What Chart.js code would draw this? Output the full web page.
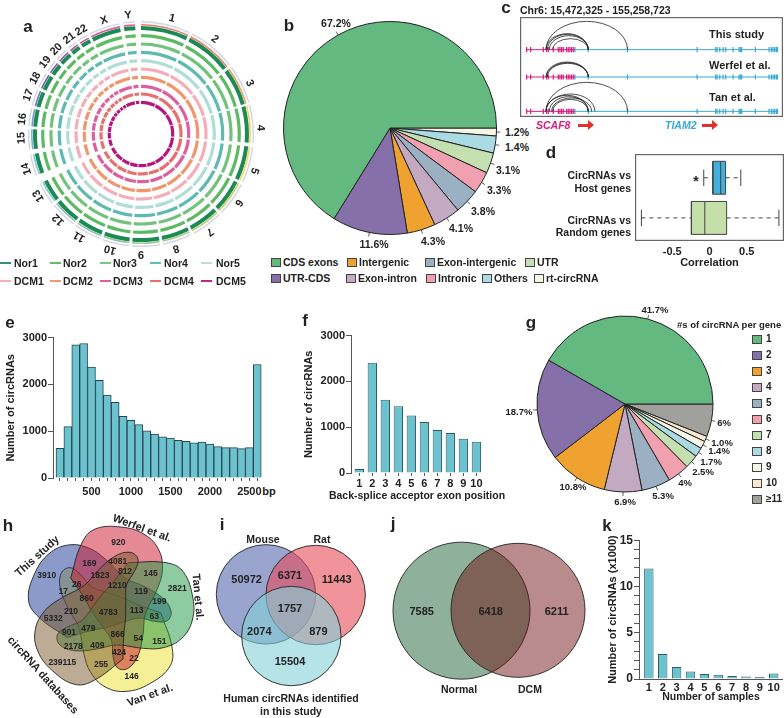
<!DOCTYPE html>
<html>
<head>
<meta charset="utf-8">
<script src="https://cdn.jsdelivr.net/npm/chart.js@4"></script>
<style>
  html, body { margin: 0; padding: 0; background: #fff; }
  #page { position: relative; width: 784px; height: 718px; overflow: hidden; font-family: "Liberation Sans", Arial, sans-serif; color: #222; }
  #page canvas { position: absolute; }
  .t { position: absolute; white-space: nowrap; font-weight: bold; line-height: 1; }
  .s { position: absolute; box-sizing: border-box; }
</style>
</head>
<body>
<div id="page"></div>
<script>
// a: circos
const chromosomes = ["1","2","3","4","5","6","7","8","9","10","11","12","13","14","15","16","17","18","19","20","21","22","X","Y"];
const chromosomeMb = [249,243,198,191,181,171,159,146,141,135,135,133,115,107,102,90,81,78,59,63,48,51,155,59];
const chromosomeGaps = [15,15,12,20,15,15,15,15,15,15,15,15,45,25,15,15,15,15,15,15,15,15,20,30];
const trackNames = ["Nor1","Nor2","Nor3","Nor4","Nor5","DCM1","DCM2","DCM3","DCM4","DCM5"];

// b: circRNA types
const bTypes = ["rt-circRNA","Others","UTR","Intronic","Exon-intergenic","Exon-intron","Intergenic","UTR-CDS","CDS exons"];
const bShares = [1.2,2.6,3.1,3.3,3.8,4.1,4.3,11.4,66.2];
const bPrinted = ["1.2%","1.4%","3.1%","3.3%","3.8%","4.1%","4.3%","11.6%","67.2%"];

// c: tracks
const cTracks = ["This study","Werfel et al.","Tan et al."];
const cExonsScaf8 = [80,92,130,140,145,160,175,180,185,190,200,205,210,215,220];
const cExonsTiam2 = [225,265,383,592,648,652,660,670,678,700,718,722,726,767,808,815,820,825,830,833];
const cArcsThisStudy = [[138,383,85],[138,265,48],[142,265,46],[148,265,42],[158,265,33]];
const cArcsWerfel = [[138,265,45],[140,265,43],[142,265,41]];
const cArcsTan = [[138,383,87],[138,285,52],[138,265,48],[148,265,44],[155,275,40],[158,265,36]];

// d: correlation boxes [whisker low, q1, median, q3, whisker high]
const dHost = [-0.077,0.045,0.15,0.216,0.42];
const dRandom = [-0.914,-0.243,-0.063,0.23,0.932];

// e: length histogram
const eBins = [100,200,300,400,500,600,700,800,900,1000,1100,1200,1300,1400,1500,1600,1700,1800,1900,2000,2100,2200,2300,2400,2500,2600];
const eCounts = [635,1098,2845,2873,2368,2088,1772,1617,1316,1232,1140,1007,937,880,853,804,783,754,769,726,670,649,649,628,649,2425];

// f: acceptor exon position
const fPositions = [1,2,3,4,5,6,7,8,9,10];
const fCounts = [85,2409,1598,1455,1254,1112,940,875,746,680];

// g: circRNA per gene
const gGroups = ["≥11","10","9","8","7","6","5","4","3","2","1"];
const gShares = [6,1.0,1.4,1.7,2.5,4,5.3,6.9,10.8,18.7,41.7];
const gPrinted = ["6%","1.0%","1.4%","1.7%","2.5%","4%","5.3%","6.9%","10.8%","18.7%","41.7%"];

// h, i, j: venn counts
const hCounts = [920,169,4081,1823,812,145,2821,3910,26,17,1210,119,199,860,210,4783,113,63,5332,479,901,866,54,151,2178,409,424,22,239115,255,146];
const iCounts = [50972,6371,11443,1757,2074,879,15504];
const jCounts = [7585,6418,6211];

// k: samples
const kSamples = [1,2,3,4,5,6,7,8,9,10];
const kCounts = [11.95,2.7,1.3,0.8,0.55,0.45,0.33,0.28,0.22,0.6];

// ---- colours ----
const trackColors = ["#1c8a55","#5cba62","#72c27e","#5cbab0","#aeded5","#f3aeb8","#f0966f","#de5f9e","#e76f70","#b5157d"];
const legendColors = ["#2f8f78","#66bb6a","#7dc77f","#63bdb3","#b6e0d8","#f3aeb8","#f0966f","#de5f9e","#e76f70","#c2258a"];
const ideogramColors = ["#e77f70","#e8846a","#eda05a","#f3d35c","#f3d860","#c9cf5a","#b7d070","#aacd88","#a0cb9c","#98c4a2","#92c2aa","#8bc2b6","#86c4c8","#7fc6dc","#7eaed8","#7c98ce","#6f79b6","#6f5fac","#8a5ca8","#9e5aa6","#b6569f","#c8559b","#da5a9a","#e35f90"];
const bColors = ["#f6f5e8","#abdbe2","#c4dfb0","#f0a0ae","#9bb0c2","#c3a9c2","#efa22f","#8670a9","#64b981"];
const gColors = ["#a0a09c","#fae8d2","#f6f5e8","#abdbe2","#c4dfb0","#f0a0ae","#9bb0c2","#c3a9c2","#efa22f","#8670a9","#64b981"];
const barFill = "#6cc3cf";
const FONT = "'Liberation Sans', Arial, sans-serif";
const page = document.getElementById("page");
Chart.defaults.font.family = FONT;
Chart.defaults.color = "#222";
Chart.defaults.animation = false;
Chart.defaults.plugins.legend.display = false;
Chart.defaults.plugins.tooltip.enabled = false;
Chart.defaults.layout.autoPadding = false;

function makeChart(left, top, width, height, config) {
  const c = document.createElement("canvas");
  c.width = width; c.height = height;
  c.style.left = left + "px"; c.style.top = top + "px";
  c.style.width = width + "px"; c.style.height = height + "px";
  page.appendChild(c);
  config.options = Object.assign({ responsive: false }, config.options);
  return new Chart(c, config);
}

function text(str, x, y, size, opts) {
  opts = opts || {};
  const d = document.createElement("div");
  d.className = "t";
  d.textContent = str;
  d.style.left = x + "px"; d.style.top = y + "px";
  d.style.fontSize = size + "px";
  if (opts.color) d.style.color = opts.color;
  if (opts.italic) d.style.fontStyle = "italic";
  const shift = opts.align === "left" ? "0" : opts.align === "right" ? "-100%" : "-50%";
  d.style.transform = "translate(" + shift + ",-50%) rotate(" + (opts.rot || 0) + "deg)";
  page.appendChild(d);
}

function swatch(x, y, w, h, color, border) {
  const d = document.createElement("div");
  d.className = "s";
  d.style.cssText = "left:" + x + "px;top:" + y + "px;width:" + w + "px;height:" + h + "px;background:" + color + ";" + (border ? "border:1px solid " + border + ";" : "");
  page.appendChild(d);
}

function redArrow(x, y) {
  swatch(x, y - 1.5, 11, 3, "#e2302a");
  const d = document.createElement("div");
  d.className = "s";
  d.style.cssText = "left:" + (x + 10) + "px;top:" + (y - 5) + "px;width:0;height:0;border-top:5px solid transparent;border-bottom:5px solid transparent;border-left:6px solid #e2302a;";
  page.appendChild(d);
}

// short leader tick out of each pie slice
const leaderPlugin = {
  id: "leaders",
  afterDatasetsDraw(chart) {
    const ctx = chart.ctx;
    ctx.save();
    ctx.strokeStyle = "#333"; ctx.lineWidth = 0.8;
    chart.getDatasetMeta(0).data.forEach((arc) => {
      const mid = (arc.startAngle + arc.endAngle) / 2;
      ctx.beginPath();
      ctx.moveTo(arc.x + Math.cos(mid) * arc.outerRadius, arc.y + Math.sin(mid) * arc.outerRadius);
      ctx.lineTo(arc.x + Math.cos(mid) * (arc.outerRadius + 4), arc.y + Math.sin(mid) * (arc.outerRadius + 4));
      ctx.stroke();
    });
    ctx.restore();
  },
};

const framePlugin = {
  id: "frame",
  afterDraw(chart) {
    const a = chart.chartArea, ctx = chart.ctx;
    ctx.save();
    ctx.strokeStyle = "#666"; ctx.lineWidth = 1.2;
    ctx.strokeRect(a.left + 0.6, a.top + 0.6, a.right - a.left - 1.2, a.bottom - a.top - 1.2);
    ctx.restore();
  },
};

// ---- a ----
(function () {
  const sectors = [];
  chromosomeMb.forEach((mb, i) => { sectors.push(mb, chromosomeGaps[i]); });
  const everyOther = (color) => sectors.map((v, i) => (i % 2 ? "rgba(0,0,0,0)" : color));
  const trackCentres = [106,98.3,90,81.7,73.3,65,56.7,47.7,40,31.7];
  const datasets = [];
  const ring = (color, weight) => datasets.push({ data: sectors, backgroundColor: color, borderWidth: 0, weight: weight });
  ring(everyOther("rgba(90,100,170,.28)"), 1.4);
  ring("rgba(0,0,0,0)", 1.6);
  ring(sectors.map((v, i) => (i % 2 ? "rgba(0,0,0,0)" : ideogramColors[i / 2])), 1.6);
  let edge = 108.4;
  trackCentres.forEach((c, i) => {
    const half = i === 0 ? 2 : 1.6;
    ring("rgba(0,0,0,0)", edge - (c + half));
    ring(everyOther(trackColors[i]), 2 * half);
    edge = c - half;
  });
  makeChart(28, 21, 226, 226, {
    type: "doughnut",
    data: { labels: sectors.map(String), datasets: datasets },
    options: { cutout: edge, radius: 113, rotation: 0, layout: { padding: 0 } },
  });
  const labelAngles = [15,38,65,87,108,125,145,163,180,195,211,224,239,253,268,277,289,298,307,315,323,330,342,354];
  chromosomes.forEach((name, i) => {
    const rad = labelAngles[i] * Math.PI / 180;
    text(name, 141 + 120 * Math.sin(rad), 134 - 120 * Math.cos(rad), 11, { rot: labelAngles[i] });
  });
  const lineX = [0,50,100,150,201];
  const textX = [14,63,113,164,216];
  trackNames.forEach((name, i) => {
    const col = i % 5, y = i < 5 ? 263 : 281;
    swatch(lineX[col], y - 0.7, 11, 1.5, legendColors[i]);
    text(name, textX[col], y, 10.5, { align: "left" });
  });
})();
text("a", 28, 26, 17);

// ---- b ----
makeChart(276, 14, 228, 228, {
  type: "pie",
  data: { labels: bTypes, datasets: [{ data: bShares, backgroundColor: bColors, borderColor: "#222", borderWidth: 1 }] },
  options: { radius: 106.5, rotation: 90, layout: { padding: 0 } },
  plugins: [leaderPlugin],
});
const bLabelXY = [[517,132],[517,147],[508,170],[499,190],[483,211],[461,228],[433,241],[374,244],[336,23]];
bPrinted.forEach((s, i) => text(s, bLabelXY[i][0], bLabelXY[i][1], 10.5));
text("b", 289, 25, 17);
const bLegend = [["CDS exons",271,262,8],["Intergenic",347,262,6],["Exon-intergenic",425,262,4],["UTR",525,262,2],
  ["UTR-CDS",271,278,7],["Exon-intron",346,278,5],["Intronic",426,278,3],["Others",482,278,1],["rt-circRNA",534,278,0]];
bLegend.forEach((e) => {
  swatch(e[1], e[2] - 4.5, 10, 9, bColors[e[3]], "#444");
  text(e[0], e[1] + 12, e[2], 10.5, { align: "left" });
});

// ---- c ----
(function () {
  const baselines = [148,230,333];
  const pink = "#d81b7f", blue = "#37a9d4";
  const datasets = [];
  baselines.forEach((b) => {
    datasets.push({ data: [{ x: 78, y: b }, { x: 225, y: b }], showLine: true, borderColor: pink, borderWidth: 1, pointRadius: 0 });
    datasets.push({ data: [{ x: 225, y: b }, { x: 836, y: b }], showLine: true, borderColor: blue, borderWidth: 1, pointRadius: 0 });
    datasets.push({ data: cExonsScaf8.map((x) => ({ x: x, y: b })), pointStyle: "line", pointRotation: 90, pointRadius: 2.6, pointBorderColor: pink, pointBorderWidth: 1.2 });
    datasets.push({ data: cExonsTiam2.map((x) => ({ x: x, y: b })), pointStyle: "line", pointRotation: 90, pointRadius: 2.6, pointBorderColor: blue, pointBorderWidth: 1.2 });
  });
  const allArcs = [cArcsThisStudy, cArcsWerfel, cArcsTan];
  const arcPlugin = {
    id: "arcs",
    afterDatasetsDraw(chart) {
      const ctx = chart.ctx, xs = chart.scales.x, ys = chart.scales.y;
      ctx.save();
      ctx.strokeStyle = "#222"; ctx.lineWidth = 0.8;
      allArcs.forEach((arcs, t) => arcs.forEach((a) => {
        const x0 = xs.getPixelForValue(a[0]), x1 = xs.getPixelForValue(a[1]);
        const base = ys.getPixelForValue(baselines[t]);
        const ry = base - ys.getPixelForValue(baselines[t] - a[2]);
        ctx.beginPath();
        ctx.ellipse((x0 + x1) / 2, base, (x1 - x0) / 2, ry, 0, Math.PI, 2 * Math.PI);
        ctx.stroke();
      }));
      ctx.restore();
    },
  };
  makeChart(520, 17, 263, 100, {
    type: "scatter",
    data: { datasets: datasets },
    options: {
      layout: { padding: 0 },
      scales: {
        x: { display: false, min: 60, max: 850 },
        y: { display: false, min: 50, max: 350, reverse: true },
      },
    },
    plugins: [arcPlugin, framePlugin],
  });
  const y = [34,65,97];
  cTracks.forEach((s, i) => text(s, 709, y[i], 11, { align: "left" }));
})();
text("c", 506, 7, 17);
text("Chr6: 15,472,325 - 155,258,723", 520, 10, 10.5, { align: "left" });
text("SCAF8", 536, 125, 10.5, { align: "left", italic: true, color: "#d81b7f" });
text("TIAM2", 665, 125, 10.5, { align: "left", italic: true, color: "#37a9d4" });
redArrow(578, 125);
redArrow(702, 125);

// ---- d ----
(function () {
  const half = 0.41;
  // the library paints the first dataset on top, so median comes first and box after it
  const boxDatasets = (v, row, fill) => {
    const dash = { showLine: true, pointRadius: 0, borderColor: "#444", borderWidth: 1, borderDash: [4, 4] };
    const solid = { showLine: true, pointRadius: 0, borderColor: "#444", borderWidth: 1 };
    return [
      Object.assign({ data: [{ x: v[2], y: row - half }, { x: v[2], y: row + half }] }, solid),
      Object.assign({ data: [{ x: v[1], y: row - half }, { x: v[3], y: row - half }, { x: v[3], y: row + half }, { x: v[1], y: row + half }, { x: v[1], y: row - half }], fill: "shape", backgroundColor: fill }, solid),
      Object.assign({ data: [{ x: v[0], y: row }, { x: v[1], y: row }] }, dash),
      Object.assign({ data: [{ x: v[3], y: row }, { x: v[4], y: row }] }, dash),
      Object.assign({ data: [{ x: v[0], y: row - half / 2 }, { x: v[0], y: row + half / 2 }] }, solid),
      Object.assign({ data: [{ x: v[4], y: row - half / 2 }, { x: v[4], y: row + half / 2 }] }, solid),
    ];
  };
  makeChart(635, 154, 149, 116, {
    type: "scatter",
    data: { datasets: boxDatasets(dRandom, 0.575, "#c4dfa8").concat(boxDatasets(dHost, 1.575, "#43b0dc")) },
    options: {
      layout: { padding: 0 },
      scales: {
        x: {
          min: -1, max: 1,
          afterFit(s) { s.height = 29; },
          afterBuildTicks(s) { s.ticks = [{ value: -0.5 }, { value: 0 }, { value: 0.5 }]; },
          grid: { display: false, drawTicks: false }, border: { display: false },
          ticks: { font: { size: 11, weight: "bold" }, padding: 4, maxRotation: 0, callback: (v) => v },
          title: { display: true, text: "Correlation", font: { size: 11, weight: "bold" }, padding: 0 },
        },
        y: { display: false, min: 0, max: 2.167 },
      },
    },
    plugins: [framePlugin],
  });
})();
text("d", 551, 152, 17);
text("CircRNAs vs", 631, 175, 10.5, { align: "right" });
text("Host genes", 631, 188, 10.5, { align: "right" });
text("CircRNAs vs", 631, 220, 10.5, { align: "right" });
text("Random genes", 631, 232, 10.5, { align: "right" });
text("*", 696, 181, 14);

// ---- shared bar options ----
function barScales(xMin, xMax, ticks, tickFn, yMax, yStep, yW, xH, yTitle, xTitle, yFont) {
  return {
    x: {
      type: "linear", min: xMin, max: xMax, offset: false,
      afterFit(s) { s.height = xH; },
      afterBuildTicks(s) { s.ticks = ticks.map((v) => ({ value: v })); },
      grid: { drawOnChartArea: false, offset: false, color: "#555", tickLength: 3 },
      border: { display: false },
      ticks: { autoSkip: false, maxRotation: 0, padding: 1, font: { size: 11, weight: "bold" }, callback: tickFn },
      title: { display: !!xTitle, text: xTitle, font: { size: 10.5, weight: "bold" }, padding: 0 },
    },
    y: {
      min: 0, max: yMax,
      afterFit(s) { s.width = yW; },
      grid: { drawOnChartArea: false, color: "#555", tickLength: 5 },
      border: { color: "#555" },
      ticks: { stepSize: yStep, padding: 1, font: { size: yFont || 11, weight: "bold" }, callback: (v) => v },
      title: { display: true, text: yTitle, font: { size: 11, weight: "bold" }, padding: { top: 0, bottom: 0 } },
    },
  };
}

// ---- e ----
(function () {
  const scales = barScales(12, 2660, eBins, (v) => (v % 500 === 0 ? v : ""), 3000, 1000, 49, 22, "Number of circRNAs");
  scales.x.ticks.padding = 4;
  makeChart(4, 330, 258, 170, {
    type: "bar",
    data: { datasets: [{ data: eBins.map((b, i) => ({ x: b, y: eCounts[i] })), backgroundColor: barFill, borderColor: "#24474e", borderWidth: 1, barPercentage: 1, categoryPercentage: 1 }] },
    options: { layout: { padding: { top: 6, right: 0 } }, scales: scales },
  });
})();
text("e", 10, 322, 17);
text("bp", 269, 491, 11);

// ---- f ----
makeChart(302, 328, 190, 172, {
  type: "bar",
  data: { datasets: [{ data: fPositions.map((p, i) => ({ x: p, y: fCounts[i] })), backgroundColor: barFill, borderColor: "#2f5b63", borderWidth: 1, barPercentage: 0.72, categoryPercentage: 1 }] },
  options: {
    layout: { padding: { top: 6, right: 0 } },
    scales: barScales(0.36, 11.2, fPositions, (v) => v, 3000, 1000, 49, 27, "Number of circRNAs"),
  },
});
text("f", 305, 320, 17);
text("Back-splice acceptor exon position", 417, 495, 10.5);

// ---- g ----
makeChart(531, 310, 188, 188, {
  type: "pie",
  data: { labels: gGroups, datasets: [{ data: gShares, backgroundColor: gColors, borderColor: "#222", borderWidth: 1 }] },
  options: { radius: 88, rotation: 90, layout: { padding: 0 } },
  plugins: [leaderPlugin],
});
const gLabelXY = [[724,423],[722,443],[719,451],[711,462],[703,472],[685,483],[663,496],[625,502],[573,487],[519,412],[655,310]];
gPrinted.forEach((s, i) => text(s, gLabelXY[i][0], gLabelXY[i][1], 9.5));
text("g", 531, 322, 17);
text("#s of circRNA per gene", 677, 325, 9.5, { align: "left" });
gGroups.slice().reverse().forEach((s, i) => {
  const y = 339 + i * 16;
  swatch(752, y - 4.5, 10, 9, gColors[gColors.length - 1 - i], "#444");
  text(s, 766, y, 10, { align: "left" });
});

// ---- h ----
(function () {
  // one petal outline, turned five times round the middle of the diagram
  const petal = [[385,248],[490,247],[545,270],[577,345],[577,420],[545,475],[490,503],[430,505],[350,495],[290,507],[225,512],[180,495],[172,465],[200,442],[245,422],[275,385],[305,345],[345,300],[385,248]];
  // listed top layer first
  const turns = [
    [144, "rgba(121,87,43,.5)"],
    [0, "rgba(31,151,65,.5)"],
    [-72, "rgba(203,21,43,.5)"],
    [-144, "rgba(25,53,147,.5)"],
    [72, "rgba(235,225,43,.5)"],
  ];
  const cx = 330, cy = 390;
  const datasets = turns.map((t) => {
    const a = t[0] * Math.PI / 180;
    return {
      data: petal.map((p) => ({
        x: cx + (p[0] - cx) * Math.cos(a) - (p[1] - cy) * Math.sin(a),
        y: cy + (p[0] - cx) * Math.sin(a) + (p[1] - cy) * Math.cos(a),
      })),
      showLine: true, tension: 0.4, fill: "shape", backgroundColor: t[1],
      borderColor: "#222", borderWidth: 0.9, pointRadius: 0,
    };
  });
  makeChart(0, 480, 220, 238, {
    type: "scatter",
    data: { datasets: datasets },
    options: { layout: { padding: 0 }, scales: { x: { display: false, min: 0, max: 660 }, y: { display: false, min: 0, max: 714, reverse: true } } },
  });
  const xy = [[355,185],[268,248],[353,242],[300,284],[375,273],[452,280],[532,323],[140,285],[230,312],[190,332],[352,314],[423,333],[478,363],[260,355],[213,393],[325,395],[410,390],[463,409],[160,413],[265,443],[207,457],[353,463],[415,473],[478,483],[220,498],[292,495],[357,515],[402,535],[187,547],[303,553],[395,589]];
  hCounts.forEach((v, i) => text(String(v), xy[i][0] / 3, 480 + xy[i][1] / 3, 8.5));
})();
text("h", 8, 525, 17);
text("This study", 37, 556, 11, { rot: -42 });
text("Werfel et al.", 142, 528, 11, { rot: 20 });
text("Tan et al.", 198, 597, 11, { rot: 85 });
text("Van et al.", 150, 695, 11, { rot: -20 });
text("circRNA databases", 43, 675, 11, { rot: 48 });

// ---- i ----
makeChart(210, 480, 200, 238, {
  type: "bubble",
  data: { datasets: [
    { data: [{ x: 244, y: 468, r: 49.7 }], backgroundColor: "rgba(132,208,215,.6)", borderColor: "#222", borderWidth: 0.9 },
    { data: [{ x: 317, y: 345, r: 49.7 }], backgroundColor: "rgba(230,75,88,.6)", borderColor: "#222", borderWidth: 0.9 },
    { data: [{ x: 168, y: 343, r: 49.7 }], backgroundColor: "rgb(154,165,207)", borderColor: "#222", borderWidth: 0.9 },
  ] },
  options: { layout: { padding: 0 }, scales: { x: { display: false, min: 0, max: 600 }, y: { display: false, min: 0, max: 714, reverse: true } } },
});
const iXY = [[110,297],[240,286],[380,297],[240,385],[148,452],[325,452],[240,543]];
iCounts.forEach((v, i) => text(String(v), 210 + iXY[i][0] / 3, 480 + iXY[i][1] / 3, 11));
text("i", 222, 524, 17);
text("Mouse", 263, 539, 10.5);
text("Rat", 322, 539, 10.5);
text("Human circRNAs identified", 291, 698, 10.5);
text("in this study", 291, 711, 10.5);

// ---- j ----
makeChart(390, 530, 210, 160, {
  type: "bubble",
  data: { datasets: [
    { data: [{ x: 354, y: 391, r: 67 }], backgroundColor: "rgba(108,12,15,.48)", borderColor: "#222", borderWidth: 0.9 },
    { data: [{ x: 184.5, y: 392, r: 68.5 }], backgroundColor: "rgb(143,176,154)", borderColor: "#222", borderWidth: 0.9 },
  ] },
  options: { layout: { padding: 0 }, scales: { x: { display: false, min: -30, max: 600 }, y: { display: false, min: 150, max: 630, reverse: true } } },
});
const jXY = [[65,393],[272,393],[470,393]];
jCounts.forEach((v, i) => text(String(v), 400 + jXY[i][0] / 3, 480 + jXY[i][1] / 3, 11));
text("j", 393, 523, 17);
text("Normal", 459, 689, 10.5);
text("DCM", 530, 689, 10.5);

// ---- k ----
(function () {
  const scales = barScales(0.29, 10.67, kSamples, (v) => v, 15, 1, 33, 24, "Number of circRNAs (x1000)", "Number of samples", 12);
  scales.y.ticks.callback = (v) => (v % 5 === 0 ? v : "");
  scales.y.ticks.autoSkip = false;
  scales.x.border = { display: true, color: "#555" };
  scales.x.grid.drawTicks = false;
  scales.x.ticks.padding = 2;
  makeChart(606, 532, 177, 171, {
    type: "bar",
    data: { datasets: [{ data: kSamples.map((s, i) => ({ x: s, y: kCounts[i] })), backgroundColor: barFill, borderColor: "#2f5b63", borderWidth: 1, barPercentage: 0.68, categoryPercentage: 1 }] },
    options: { layout: { padding: { top: 5, right: 0 } }, scales: scales },
  });
})();
text("k", 607, 525, 17);
</script>
</body>
</html>
